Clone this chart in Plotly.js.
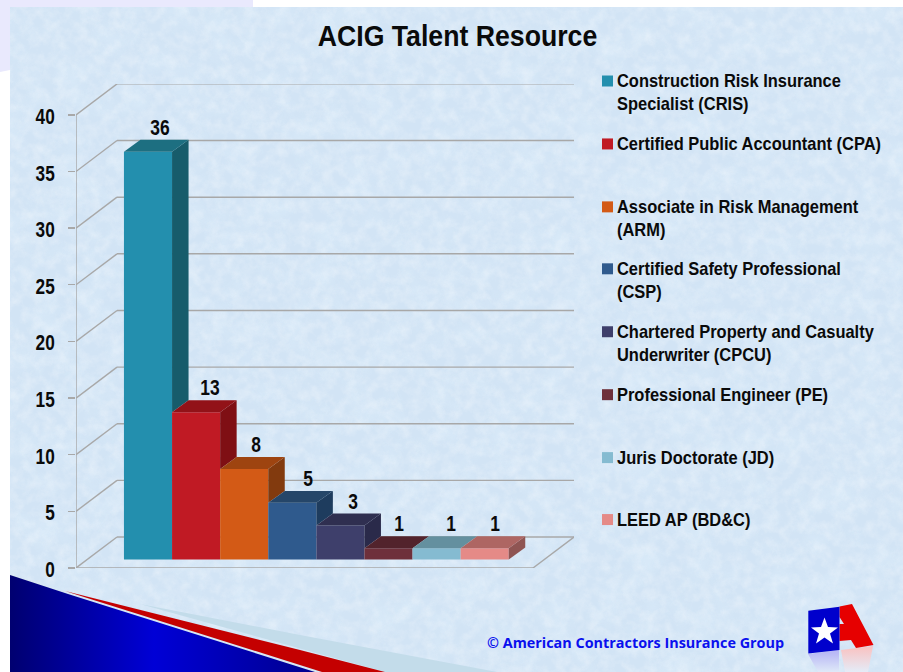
<!DOCTYPE html>
<html>
<head>
<meta charset="utf-8">
<script src="https://cdn.plot.ly/plotly-3.0.1.min.js"></script>
<style>
html,body{margin:0;padding:0;background:#fff;width:903px;height:672px;overflow:hidden}
#bg,#chart{position:absolute;left:0;top:0;width:903px;height:672px}
</style>
</head>
<body>
<svg id="bg" width="903" height="672" viewBox="0 0 903 672" xmlns="http://www.w3.org/2000/svg">
  <defs>
    <filter id="mottle" x="0" y="0" width="100%" height="100%">
      <feTurbulence type="fractalNoise" baseFrequency="0.09" numOctaves="5" seed="7"/>
      <feColorMatrix type="matrix" values="0 0 0 0 1  0 0 0 0 1  0 0 0 0 1  1.5 0 0 0 -0.55"/>
    </filter>
    <filter id="patch" x="0" y="0" width="100%" height="100%">
      <feTurbulence type="fractalNoise" baseFrequency="0.035" numOctaves="3" seed="21"/>
      <feColorMatrix type="matrix" values="0 0 0 0 0.72  0 0 0 0 0.85  0 0 0 0 0.96  2 0 0 0 -0.85"/>
    </filter>
    <linearGradient id="navy" x1="10" y1="0" x2="330" y2="0" gradientUnits="userSpaceOnUse">
      <stop offset="0" stop-color="#000070"/>
      <stop offset="0.45" stop-color="#0000d6"/>
      <stop offset="1" stop-color="#000088"/>
    </linearGradient>
    <linearGradient id="fadeB" x1="0" y1="653" x2="0" y2="672" gradientUnits="userSpaceOnUse">
      <stop offset="0" stop-color="#b9b9f5"/><stop offset="1" stop-color="#dfe9f8"/>
    </linearGradient>
    <linearGradient id="fadeR" x1="0" y1="648" x2="0" y2="672" gradientUnits="userSpaceOnUse">
      <stop offset="0" stop-color="#f8c4c4"/><stop offset="1" stop-color="#e4ecf8"/>
    </linearGradient>
  </defs>
  <path d="M0 0H253V7H10V70L0 72Z" fill="#e9e9fd"/>
  <rect x="10" y="7" width="893" height="665" fill="#d2e4f5"/>
  <rect x="10" y="7" width="893" height="665" filter="url(#patch)" opacity="0.6"/>
  <rect x="10" y="7" width="893" height="665" filter="url(#mottle)" opacity="0.4"/>
  <path d="M140 604L300 635L497 672H385Z" fill="#c3dcea"/>
  <path d="M65 591L300 650L385 672H322Z" fill="#c40000"/>
  <path d="M10 574L70 594L318 672H10Z" fill="#d8e8f0"/>
  <path d="M10 575L68 594L315 672H10Z" fill="url(#navy)"/>
  <!-- logo -->
  <path d="M808 654L839 650V672H818Z" fill="url(#fadeB)"/>
  <path d="M841 650L873 646L868 672H845Z" fill="url(#fadeR)"/>
  <path d="M839.5 606.5L852 604L873.5 645L856 648L851 640L839.5 641Z M839.5 617L839.5 624L844 624Z" fill="#e60000" fill-rule="evenodd"/>
  <path d="M808.3 610.7L839.5 606.7V650L808.3 653.5Z" fill="#0000cc"/>
  <path d="M824.5 617.5L828 627L838 627.5L830 633.5L833 643.5L824.5 637.5L816 643.5L819 633.5L811 627.5L821 627Z" fill="#fff"/>
</svg>
<div id="chart"></div>
<script>
// ---- data ----
var categories = [
  "Construction Risk Insurance<br>Specialist (CRIS)",
  "Certified Public Accountant (CPA)",
  "Associate in Risk Management<br>(ARM)",
  "Certified Safety Professional<br>(CSP)",
  "Chartered Property and Casualty<br>Underwriter (CPCU)",
  "Professional Engineer (PE)",
  "Juris Doctorate (JD)",
  "LEED AP (BD&C)"
];
var values = [36, 13, 8, 5, 3, 1, 1, 1];
var frontColors = ["#238fae","#c01a24","#d35a16","#2f5a8d","#3e3f6b","#6e303b","#85bbd1","#e58a87"];
var sideColors  = ["#175c6b","#7f0f14","#823a0e","#1e3c5e","#2a2a4a","#52232c","#5a7f8e","#8f5553"];
var topColors   = ["#1d6f81","#921218","#9e4410","#254669","#2f2f50","#52232c","#64909f","#ae6663"];
var tickValues = [0, 5, 10, 15, 20, 25, 30, 35, 40];
var labelNudge = [-1, 1, -1, 3, 0, -3, 1, -3];

// ---- pseudo-3D projection, in axis units ----
var plotL = 76, plotR = 574, plotT = 84, plotB = 568.5;
var pxPerCat = 48.1, pxPerUnit = 11.34;
var xMin = -(148 - plotL) / pxPerCat, xMax = xMin + (plotR - plotL) / pxPerCat;
var yMax = (plotB - plotT) / pxPerUnit;
var wallDx = 41 / pxPerCat, wallDy = 31 / pxPerUnit;   // back wall offset
var barDx = 16.5 / pxPerCat, barDy = 12 / pxPerUnit;   // bar depth
var base = 8.5 / pxPerUnit;                            // bars stand inside the floor
var FONT = '"Liberation Sans",Arial,sans-serif';
var GRID = "#a8a8a8";

var traces = [];
// front faces
traces.push({
  type: "bar", x: values.map(function (_, i) { return i; }), y: values, base: base,
  width: 1, marker: { color: frontColors, line: { width: 0 } },
  showlegend: false, hoverinfo: "y"
});
// visible part of the sides and tops
values.forEach(function (v, i) {
  var r = i + 0.5, l = i - 0.5, t = v + base;
  var nextT = i < values.length - 1 ? values[i + 1] + base : base;
  traces.push({
    type: "scatter", mode: "none", fill: "toself", fillcolor: sideColors[i],
    x: [r, r + barDx, r + barDx, r, r],
    y: [t, t + barDy, nextT + barDy, nextT, t],
    showlegend: false, hoverinfo: "skip"
  });
  traces.push({
    type: "scatter", mode: "none", fill: "toself", fillcolor: topColors[i],
    x: [l, r, r + barDx, l + barDx, l],
    y: [t, t, t + barDy, t + barDy, t],
    showlegend: false, hoverinfo: "skip"
  });
});

// walls, floor, axis line
var shapes = [];
function line(x0, y0, x1, y1) {
  shapes.push({ type: "line", layer: "below", xref: "x", yref: "y", x0: x0, y0: y0, x1: x1, y1: y1,
    line: { color: GRID, width: 1.4 } });
}
tickValues.forEach(function (v) {
  line(xMin, v, xMin + wallDx, v + wallDy);
  line(xMin + wallDx, v + wallDy, xMax, v + wallDy);
});
line(xMin, 0, xMin, tickValues[tickValues.length - 1]);
line(xMin, 0, xMax - wallDx, 0);
line(xMax - wallDx, 0, xMax, wallDy);

// legend swatches and text
var annotations = [];
var legendY = [81, 144, 207, 269, 332, 395, 458, 520];
function px(x) { return (x - plotL) / (plotR - plotL); }
function py(y) { return (plotB - y) / (plotB - plotT); }
categories.forEach(function (c, i) {
  var yc = legendY[i];
  shapes.push({ type: "rect", xref: "paper", yref: "paper", layer: "above",
    x0: px(602), x1: px(613), y0: py(yc - 5.5), y1: py(yc + 5.5),
    fillcolor: frontColors[i], line: { width: 0 } });
  annotations.push({ xref: "paper", yref: "paper", x: px(616), y: py(yc - 11),
    xanchor: "left", yanchor: "top", align: "left", showarrow: false, borderpad: 0,
    text: c.replace("&", "&amp;"), font: { family: FONT, size: 17.8, color: "#0a0a0a", weight: 700 } });
});
// value labels
values.forEach(function (v, i) {
  annotations.push({ xref: "x", yref: "y", x: i + barDx / 2 + 0.1, y: v + base + barDy,
    xanchor: "center", yanchor: "middle", yshift: 12, xshift: labelNudge[i], showarrow: false,
    text: String(v), font: { family: FONT, size: 21.5, color: "#0a0a0a", weight: 700 } });
});
annotations.push({ xref: "paper", yref: "paper", x: px(635.5), y: py(643),
  xanchor: "center", yanchor: "middle", showarrow: false,
  text: "\u00a9 American Contractors Insurance Group",
  font: { family: '"Open Sans",sans-serif', size: 14.4, color: "#0a10ee", weight: 700 } });

var layout = {
  width: 903, height: 672,
  margin: { l: plotL, r: 903 - plotR, t: plotT, b: 672 - plotB, pad: 0 },
  paper_bgcolor: "rgba(0,0,0,0)", plot_bgcolor: "rgba(0,0,0,0)",
  title: { text: "ACIG Talent Resource", x: 457.5 / 903, xanchor: "center", xref: "container",
    y: 1 - 36 / 672, yanchor: "middle", yref: "container",
    font: { family: FONT, size: 30, color: "#0a0a0a", weight: 700 } },
  showlegend: false,
  barmode: "overlay",
  xaxis: { range: [xMin, xMax], visible: false, fixedrange: true },
  yaxis: { range: [0, yMax], tickmode: "array", tickvals: tickValues, ticktext: tickValues.map(String),
    ticks: "outside", ticklen: 7, tickcolor: GRID, tickwidth: 1.4, showgrid: false, showline: false,
    zeroline: false, ticklabelstandoff: 9, fixedrange: true,
    tickfont: { family: FONT, size: 21.5, color: "#0a0a0a", weight: 700 } },
  shapes: shapes, annotations: annotations
};

// the reference uses a condensed bold face: narrow the real text horizontally
function condense(el, s, anchor, dy) {
  var b = el.getBBox();
  var ax = anchor === "left" ? b.x : anchor === "right" ? b.x + b.width : b.x + b.width / 2;
  var old = el.getAttribute("transform") || "";
  el.setAttribute("transform", old + " translate(" + ax + "," + (dy || 0) + ") scale(" + s + ",1) translate(" + (-ax) + ",0)");
}
Plotly.newPlot("chart", traces, layout, { displayModeBar: false, staticPlot: true }).then(function () {
  var ann = document.querySelectorAll("#chart .annotation-text");
  ann.forEach(function (el, i) {
    if (i < categories.length) condense(el, 0.925, "left", 0);
    else if (i < categories.length + values.length) condense(el, 0.81, "center", 0);
  });
  document.querySelectorAll("#chart .ytick text").forEach(function (el) { condense(el, 0.8, "right", 1.5); });
  var t = document.querySelector("#chart .gtitle");
  if (t) condense(t, 0.889, "center", 0);
});
</script>
</body>
</html>
